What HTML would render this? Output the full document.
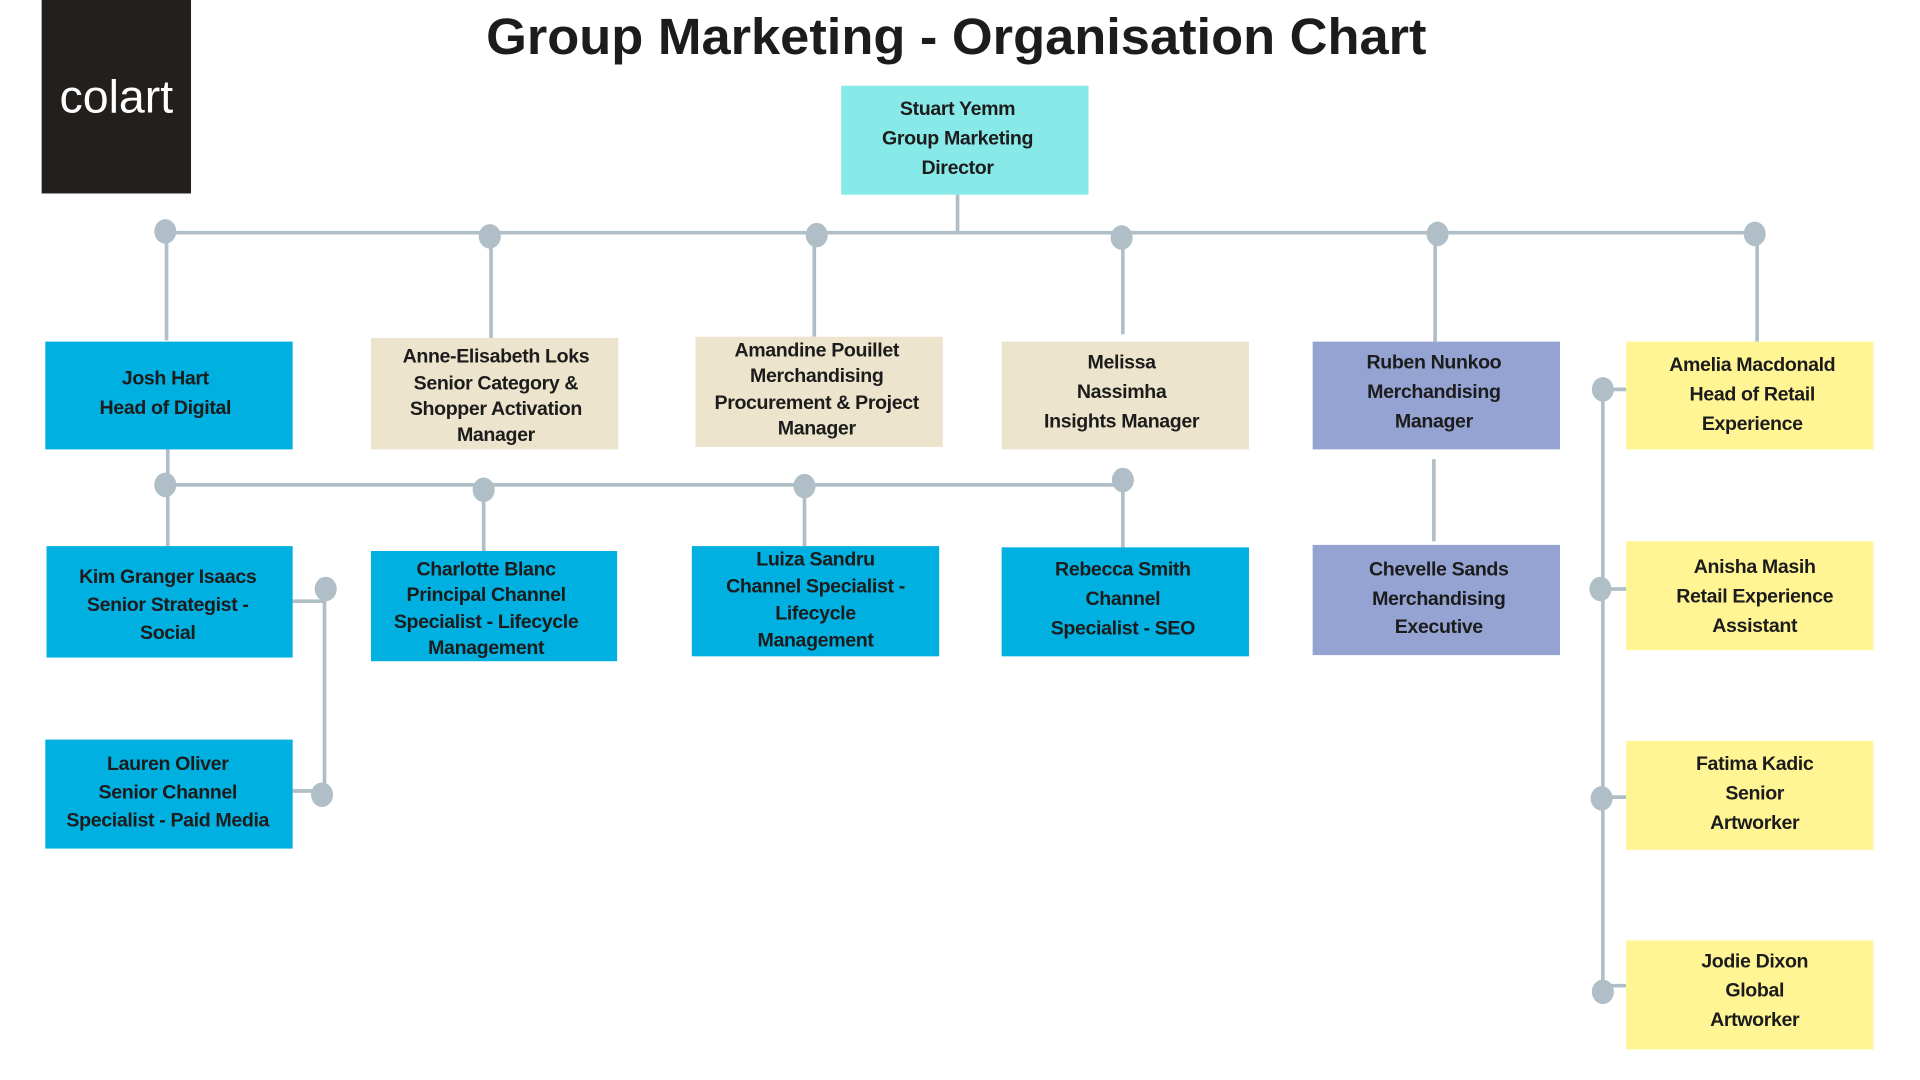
<!DOCTYPE html>
<html><head><meta charset="utf-8"><style>
html,body{margin:0;padding:0;background:#fff;}
svg{display:block}
text{font-family:"Liberation Sans",sans-serif;font-weight:bold;fill:#1c1c1c;}
</style></head><body>
<svg width="1920" height="1080" viewBox="0 0 1568 882" preserveAspectRatio="none" xmlns="http://www.w3.org/2000/svg">
<rect x="34" y="0" width="122" height="158" fill="#221f1d"/>
<text x="95" y="92" text-anchor="middle" style="font-size:38px;font-weight:normal;fill:#fff">colart</text>
<text x="397" y="44" textLength="768" lengthAdjust="spacingAndGlyphs" style="font-size:42px">Group Marketing - Organisation Chart</text>
<g stroke="#b0bfc7" stroke-width="3" fill="none">
<line x1="782" y1="159" x2="782" y2="190"/>
<line x1="135" y1="190" x2="1433" y2="190"/>
<line x1="136" y1="190" x2="136" y2="278"/>
<line x1="401" y1="193" x2="401" y2="276"/>
<line x1="665" y1="192" x2="665" y2="275"/>
<line x1="917" y1="194" x2="917" y2="273"/>
<line x1="1172" y1="191" x2="1172" y2="279"/>
<line x1="1435" y1="191" x2="1435" y2="279"/>
<line x1="137" y1="367" x2="137" y2="446"/>
<line x1="135" y1="396" x2="917" y2="396"/>
<line x1="395" y1="400" x2="395" y2="450"/>
<line x1="657" y1="397" x2="657" y2="446"/>
<line x1="917" y1="392" x2="917" y2="447"/>
<line x1="1171" y1="375" x2="1171" y2="442"/>
<line x1="265" y1="481" x2="265" y2="649"/>
<line x1="239" y1="491" x2="265" y2="491"/>
<line x1="239" y1="646" x2="263" y2="646"/>
<line x1="1309" y1="318" x2="1309" y2="810"/>
<line x1="1309" y1="318" x2="1328" y2="318"/>
<line x1="1307" y1="481" x2="1328" y2="481"/>
<line x1="1308" y1="651" x2="1328" y2="651"/>
<line x1="1309" y1="805" x2="1328" y2="805"/>
</g>
<g fill="#b0bfc7">
<ellipse cx="135" cy="189" rx="9" ry="10"/><ellipse cx="400" cy="193" rx="9" ry="10"/><ellipse cx="667" cy="192" rx="9" ry="10"/>
<ellipse cx="916" cy="194" rx="9" ry="10"/><ellipse cx="1174" cy="191" rx="9" ry="10"/><ellipse cx="1433" cy="191" rx="9" ry="10"/>
<ellipse cx="135" cy="396" rx="9" ry="10"/><ellipse cx="395" cy="400" rx="9" ry="10"/><ellipse cx="657" cy="397" rx="9" ry="10"/><ellipse cx="917" cy="392" rx="9" ry="10"/>
<ellipse cx="266" cy="481" rx="9" ry="10"/><ellipse cx="263" cy="649" rx="9" ry="10"/>
<ellipse cx="1309" cy="318" rx="9" ry="10"/><ellipse cx="1307" cy="481" rx="9" ry="10"/><ellipse cx="1308" cy="652" rx="9" ry="10"/><ellipse cx="1309" cy="810" rx="9" ry="10"/>
</g>
<rect x="687" y="70" width="202" height="89" fill="#88eae8"/>
<rect x="37" y="279" width="202" height="88" fill="#00b0e1"/>
<rect x="303" y="276" width="202" height="91" fill="#ede4cd"/>
<rect x="568" y="275" width="202" height="90" fill="#ede4cd"/>
<rect x="818" y="279" width="202" height="88" fill="#ede4cd"/>
<rect x="1072" y="279" width="202" height="88" fill="#95a3d3"/>
<rect x="1328" y="279" width="202" height="88" fill="#fff594"/>
<rect x="38" y="446" width="201" height="91" fill="#00b0e1"/>
<rect x="303" y="450" width="201" height="90" fill="#00b0e1"/>
<rect x="565" y="446" width="202" height="90" fill="#00b0e1"/>
<rect x="818" y="447" width="202" height="89" fill="#00b0e1"/>
<rect x="1072" y="445" width="202" height="90" fill="#95a3d3"/>
<rect x="37" y="604" width="202" height="89" fill="#00b0e1"/>
<rect x="1328" y="442" width="202" height="89" fill="#fff594"/>
<rect x="1328" y="605" width="202" height="89" fill="#fff594"/>
<rect x="1328" y="768" width="202" height="89" fill="#fff594"/>
<g text-anchor="middle" style="font-size:16px;letter-spacing:-0.3px">
<text x="782" y="94">Stuart Yemm</text><text x="782" y="118">Group Marketing</text><text x="782" y="142">Director</text>
<text x="135" y="314">Josh Hart</text><text x="135" y="338">Head of Digital</text>
<text x="405" y="296">Anne-Elisabeth Loks</text><text x="405" y="318">Senior Category &amp;</text><text x="405" y="339">Shopper Activation</text><text x="405" y="360">Manager</text>
<text x="667" y="291">Amandine Pouillet</text><text x="667" y="312">Merchandising</text><text x="667" y="334">Procurement &amp; Project</text><text x="667" y="355">Manager</text>
<text x="916" y="301">Melissa</text><text x="916" y="325">Nassimha</text><text x="916" y="349">Insights Manager</text>
<text x="1171" y="301">Ruben Nunkoo</text><text x="1171" y="325">Merchandising</text><text x="1171" y="349">Manager</text>
<text x="1431" y="303">Amelia Macdonald</text><text x="1431" y="327">Head of Retail</text><text x="1431" y="351">Experience</text>
<text x="137" y="476">Kim Granger Isaacs</text><text x="137" y="499">Senior Strategist -</text><text x="137" y="522">Social</text>
<text x="397" y="470">Charlotte Blanc</text><text x="397" y="491">Principal Channel</text><text x="397" y="513">Specialist - Lifecycle</text><text x="397" y="534">Management</text>
<text x="666" y="462">Luiza Sandru</text><text x="666" y="484">Channel Specialist -</text><text x="666" y="506">Lifecycle</text><text x="666" y="528">Management</text>
<text x="917" y="470">Rebecca Smith</text><text x="917" y="494">Channel</text><text x="917" y="518">Specialist - SEO</text>
<text x="1175" y="470">Chevelle Sands</text><text x="1175" y="494">Merchandising</text><text x="1175" y="517">Executive</text>
<text x="137" y="629">Lauren Oliver</text><text x="137" y="652">Senior Channel</text><text x="137" y="675">Specialist - Paid Media</text>
<text x="1433" y="468">Anisha Masih</text><text x="1433" y="492">Retail Experience</text><text x="1433" y="516">Assistant</text>
<text x="1433" y="629">Fatima Kadic</text><text x="1433" y="653">Senior</text><text x="1433" y="677">Artworker</text>
<text x="1433" y="790">Jodie Dixon</text><text x="1433" y="814">Global</text><text x="1433" y="838">Artworker</text>
</g>
</svg>
</body></html>
